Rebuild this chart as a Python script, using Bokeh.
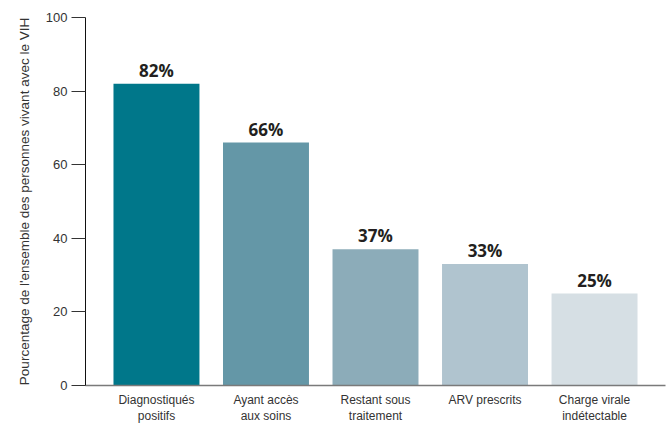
from bokeh.plotting import figure
from bokeh.models import ColumnDataSource, FixedTicker, Range1d
from bokeh.core.properties import value
from bokeh.embed import file_html
from bokeh.resources import INLINE

categories = ["Diagnostiqués\npositifs", "Ayant accès\naux soins", "Restant sous\ntraitement",
              "ARV prescrits", "Charge virale\nindétectable"]
values = [82, 66, 37, 33, 25]
colors = ["#00778A", "#6497A7", "#8CACB9", "#B0C4CF", "#D6DFE4"]
labels = ["82%", "66%", "37%", "33%", "25%"]
y_ticks = [0, 20, 40, 60, 80, 100]

xs = list(range(len(categories)))
src = ColumnDataSource(dict(x=xs, top=values, color=colors, label=labels))

p = figure(width=670, height=426, output_backend="svg", toolbar_location=None,
           x_range=Range1d(-0.648, 4.648), y_range=Range1d(0, 100),
           min_border_left=85, min_border_right=5, min_border_top=17, min_border_bottom=39)
p.outline_line_color = None
p.grid.grid_line_color = None
p.background_fill_color = "white"
p.border_fill_color = "white"

p.vbar(x="x", top="top", width=0.785, color="color", source=src, line_color=None)
p.text(x="x", y="top", text="label", source=src, text_align="center", text_baseline="bottom",
       y_offset=-2, text_font=value("Open Sans"), text_font_style="bold",
       text_font_size="17px", text_color="#231F20")

# y axis
ya = p.yaxis[0]
ya.ticker = FixedTicker(ticks=y_ticks)
ya.major_tick_in = 0
ya.major_tick_out = 14
ya.minor_tick_line_color = None
ya.axis_line_color = "#111111"
ya.major_tick_line_color = "#333333"
ya.major_label_text_font = "Liberation Sans"
ya.major_label_text_font_size = "13px"
ya.major_label_text_color = "#333333"
ya.major_label_standoff = 4
ya.axis_label = "Pourcentage de l'ensemble des personnes vivant avec le VIH"
ya.axis_label_text_font = "Liberation Sans"
ya.axis_label_text_font_size = "13.5px"
ya.axis_label_text_font_style = "normal"
ya.axis_label_text_color = "#333333"
ya.axis_label_standoff = 11

# x axis
xa = p.xaxis[0]
xa.ticker = FixedTicker(ticks=xs)
xa.major_label_overrides = {i: c for i, c in enumerate(categories)}
xa.major_tick_out = 0
xa.major_tick_in = 0
xa.major_tick_line_color = None
xa.minor_tick_line_color = None
xa.axis_line_color = "#7A7A7A"
xa.axis_line_width = 1.5
xa.major_label_text_font = "Liberation Sans"
xa.major_label_text_font_size = "12px"
xa.major_label_text_color = "#333333"
xa.major_label_standoff = 7

open("out.html", "w").write(file_html(p, INLINE))
